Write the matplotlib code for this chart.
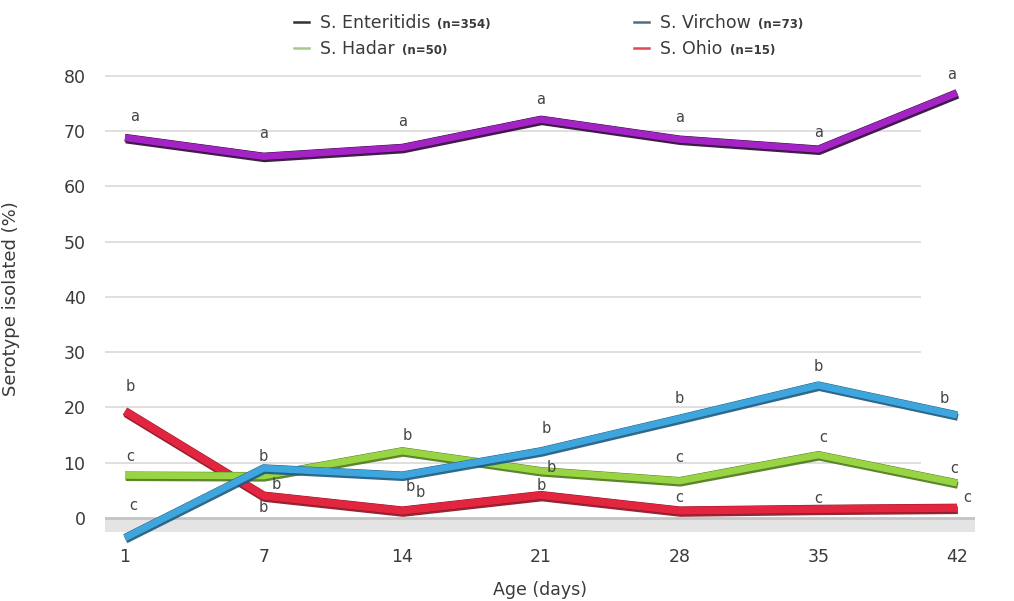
import numpy as np
import matplotlib
matplotlib.use("Agg")
import matplotlib.pyplot as plt
import matplotlib.patheffects as pe
from matplotlib.lines import Line2D
from matplotlib.offsetbox import (AnchoredOffsetbox, DrawingArea, HPacker,
                                  TextArea, VPacker)

# Serotype prevalence by bird age
ages = ["1", "7", "14", "21", "28", "35", "42"]
enteritidis = [68.8, 65.4, 67.0, 72.1, 68.5, 66.7, 76.9]
virchow = [-3.6, 9.0, 7.7, 12.1, 18.0, 24.0, 18.6]
hadar = [7.7, 7.6, 12.1, 8.5, 6.7, 11.4, 6.3]
ohio = [19.3, 4.0, 1.3, 4.1, 1.3, 1.6, 1.8]

# significance letters for each point
ent_letters = ["a", "a", "a", "a", "a", "a", "a"]
vir_letters = ["c", "b", "b", "b", "b", "b", "b"]
had_letters = ["c", "b", "b", "b", "c", "c", "c"]
ohio_letters = ["b", "b", "b", "b", "c", "c", "c"]

# letter offsets in pixels (dx, dy)
ent_off = [(10, 21), (0, 23), (0, 26), (0, 20), (0, 22), (0, 17), (-5, 18)]
vir_off = [(8, 32), (0, 12), (8, -11), (5, 23), (0, 20), (0, 19), (-13, 17)]
had_off = [(5, 19), (13, -9), (5, 16), (10, 3), (0, 23), (5, 17), (-3, 15)]
ohio_off = [(5, 25), (0, -12), (18, 18), (0, 10), (0, 13), (0, 11), (10, 10)]

series = [
    ("S. Ohio", "(n=15)", ohio, ohio_letters, ohio_off, "#e3263f", "#8a1020", 5.6),
    ("S. Hadar", "(n=50)", hadar, had_letters, had_off, "#98d444", "#4d7a1c", 5),
    ("S. Virchow", "(n=73)", virchow, vir_letters, vir_off, "#3ea6dc", "#1d5a80", 5),
    ("S. Enteritidis", "(n=354)", enteritidis, ent_letters, ent_off, "#a323c4", "#2c0834", 5),
]

txt = "#3a3a3a"
fig = plt.figure(figsize=(10.14, 6.01), dpi=100)
ax = fig.add_axes([0.1036, 0.0932, 0.858, 0.799])

x = np.arange(len(ages))
for i, (name, n, vals, letters, offs, col, dark, lw) in enumerate(series):
    ax.plot(x, vals, color=col, lw=lw, solid_capstyle="butt", zorder=5 + i,
            path_effects=[pe.SimpleLineShadow(offset=(0.6, -1.6), shadow_color=dark, alpha=0.9),
                          pe.Stroke(linewidth=lw + 0.6, foreground=dark), pe.Normal()])
    for xi, v, lt, (dx, dy) in zip(x, vals, letters, offs):
        ax.annotate(lt, (xi, v), xytext=(dx, dy), textcoords="offset pixels",
                    ha="center", va="center", fontsize=10.5, color="#444444", zorder=20)

# floor and grid (grid stops short of the last column)
for g in range(10, 90, 10):
    ax.axhline(g, xmax=0.937, color="#dcdcdc", lw=1.3, zorder=1)
ax.axhspan(-2.6, 0, color="#e4e4e4", lw=0, zorder=0)
ax.axhline(0, color="#c4c4c4", lw=2.0, zorder=1)

ax.set_xlim(-0.144, 6.13)
ax.set_ylim(-4.9, 82)
ax.set_yticks(range(0, 90, 10))
ax.set_xticks(x)
ax.set_xticklabels(ages)
ax.tick_params(length=0, labelsize=12.5, colors=txt)
ax.tick_params(axis="y", pad=14)
ax.tick_params(axis="x", pad=2)
for s in ax.spines.values():
    s.set_visible(False)

ax.set_xlabel("Age (days)", fontsize=12.5, color=txt)
ax.xaxis.set_label_coords(0.5, -0.075)
ax.set_ylabel("Serotype isolated (%)", fontsize=13, color=txt)
ax.yaxis.set_label_coords(-0.098, 0.513)

# legend: two columns, main name with smaller sample size
legend_marks = {
    "S. Enteritidis": "#3b2b3b",
    "S. Virchow": "#4f6f86",
    "S. Hadar": "#a9c98a",
    "S. Ohio": "#e0485a",
}


def legend_item(name, n):
    da = DrawingArea(14, 10, 0, 0)
    da.add_artist(Line2D([0, 11], [4, 4], color=legend_marks[name], lw=1.8))
    t1 = TextArea(name, textprops=dict(fontsize=12.5, color=txt))
    t2 = TextArea(n, textprops=dict(fontsize=8.5, color=txt, weight="bold"))
    return HPacker(children=[da, t1, t2], align="baseline", pad=0, sep=5)


by_name = {s[0]: s[1] for s in series}
col1 = VPacker(children=[legend_item("S. Enteritidis", by_name["S. Enteritidis"]),
                         legend_item("S. Hadar", by_name["S. Hadar"])],
               align="left", pad=0, sep=6)
col2 = VPacker(children=[legend_item("S. Virchow", by_name["S. Virchow"]),
                         legend_item("S. Ohio", by_name["S. Ohio"])],
               align="left", pad=0, sep=6)
box = HPacker(children=[col1, col2], align="top", pad=0, sep=103)
leg = AnchoredOffsetbox(loc="upper left", child=box, frameon=False,
                        bbox_to_anchor=(288 / 1014, 1 - 8 / 601),
                        bbox_transform=fig.transFigure, borderpad=0)
fig.add_artist(leg)

fig.savefig("out.png", dpi=100)
